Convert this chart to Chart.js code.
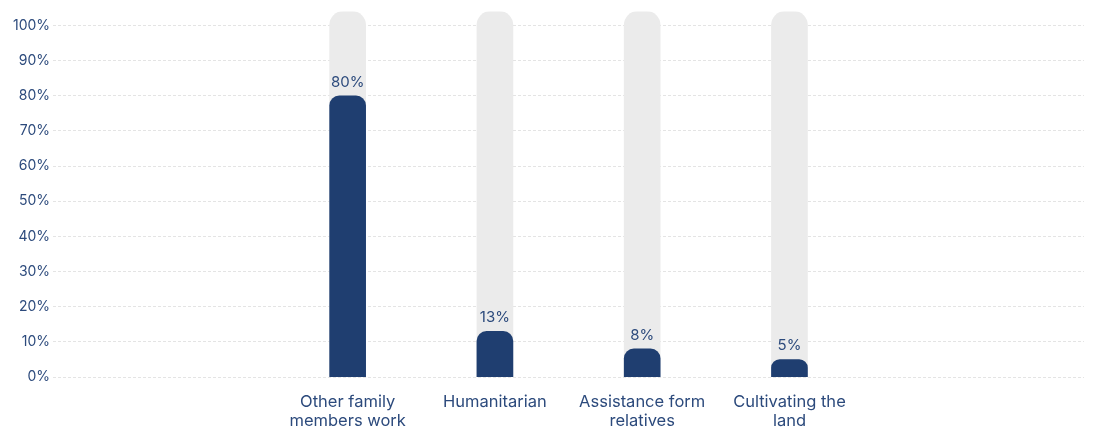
<!DOCTYPE html>
<html>
<head>
<meta charset="utf-8">
<script src="https://cdn.jsdelivr.net/npm/chart.js@4/dist/chart.umd.min.js"></script>
<style>
  html, body { margin: 0; padding: 0; background: #ffffff; }
  #wrap { width: 1108px; height: 430px; position: relative; }
</style>
</head>
<body>
<div id="wrap"><canvas id="chart"></canvas></div>
<script>
// Income sources (share of households)
const categories = ['', '', ['Other family', 'members work'], 'Humanitarian', ['Assistance form', 'relatives'], ['Cultivating the', 'land'], '', ''];
const shares = [null, null, 80, 13, 8, 5, null, null];
const axisMax = 104;
const trackValues = [null, null, axisMax, axisMax, axisMax, axisMax, null, null];
const yTickStep = 10;

const TEXT = '#2c4a7c';
const BAR = '#1f3e70';
const TRACK = '#ebebeb';
const FONT = 'Inter, "Open Sans", sans-serif';

// Percentage label above each dark bar
const valueLabels = {
  id: 'valueLabels',
  afterDatasetsDraw(chart) {
    const ctx = chart.ctx;
    const meta = chart.getDatasetMeta(0);
    ctx.save();
    ctx.font = '15px ' + FONT;
    ctx.fillStyle = TEXT;
    ctx.textAlign = 'center';
    ctx.textBaseline = 'alphabetic';
    meta.data.forEach((bar, i) => {
      const v = shares[i];
      if (v == null) return;
      ctx.fillText(v + '%', bar.x, bar.y - 9);
    });
    ctx.restore();
  }
};

new Chart(document.getElementById('chart'), {
  type: 'bar',
  data: {
    labels: categories,
    datasets: [
      {
        data: shares,
        backgroundColor: BAR,
        barThickness: 36,
        grouped: false,
        borderRadius: { topLeft: 10, topRight: 10, bottomLeft: 0, bottomRight: 0 },
        borderSkipped: 'bottom'
      },
      {
        data: trackValues,
        backgroundColor: TRACK,
        barThickness: 36,
        grouped: false,
        borderRadius: { topLeft: 14, topRight: 14, bottomLeft: 0, bottomRight: 0 },
        borderSkipped: 'bottom'
      }
    ]
  },
  options: {
    responsive: true,
    maintainAspectRatio: false,
    animation: false,
    layout: { padding: { left: 10, right: 24, top: 10, bottom: -17 } },
    plugins: {
      legend: { display: false },
      tooltip: { enabled: false }
    },
    scales: {
      x: {
        offset: false,
        grid: { display: false, drawTicks: false },
        border: { display: false },
        ticks: {
          color: TEXT,
          font: { family: FONT, size: 16.5, lineHeight: 1.15 },
          padding: 16,
          maxRotation: 0,
          autoSkip: false
        }
      },
      y: {
        min: 0,
        max: axisMax,
        grid: { color: '#e4e4e4', lineWidth: 1, drawTicks: false },
        border: { display: false, dash: [3, 2] },
        ticks: {
          stepSize: yTickStep,
          includeBounds: false,
          color: TEXT,
          font: { family: FONT, size: 14 },
          padding: 3,
          callback: v => v + '%'
        }
      }
    }
  },
  plugins: [valueLabels]
});
</script>
</body>
</html>
